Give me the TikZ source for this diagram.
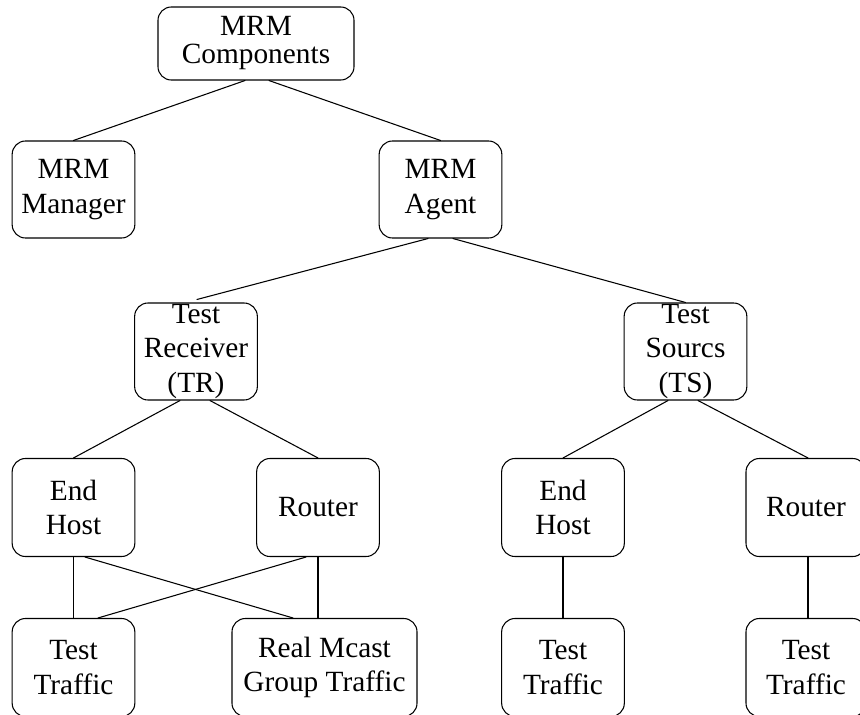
\documentclass[tikz,border=0pt]{standalone}
\usepackage{fontspec}
\setmainfont{Liberation Serif}
\usetikzlibrary{calc}
\tikzset{
  box/.style={draw,line width=0.8pt,rounded corners=10pt,inner sep=0pt,align=center,
    minimum width=92pt,minimum height=73.5pt,font=\fontsize{22}{26}\selectfont},
  link/.style={line width=0.8pt}
}
\begin{document}
\begin{tikzpicture}[line cap=round,line join=round,x=0.75pt,y=-0.75pt]
      \useasboundingbox (0,0) rectangle (860,714);
      \clip (0,0) rectangle (860,714);
      % top levels
      \node[box,minimum width=147pt,minimum height=54.75pt] (comp) at (256,43.5) {MRM\\[-5pt]Components};
      \node[box,minimum height=72.75pt] (mgr) at (73.5,189.5) {MRM\\Manager};
      \node[box,minimum height=72.75pt] (agent) at (440.5,189.5) {MRM\\Agent};
      \node[box,minimum height=72.75pt] (tr) at (196,351.5) {Test\\Receiver\\(TR)};
      \node[box,minimum height=72.75pt] (ts) at (685.5,351.5) {Test\\Sourcs\\(TS)};
      % receiver side
      \node[box] (eh1) at (73.5,507.5) {End\\Host};
      \node[box] (rt1) at (318,507.5) {Router};
      \node[box] (tt1) at (73.5,667.5) {Test\\Traffic};
      \node[box,minimum width=138.75pt] (rm) at (324.5,667.5) {Real Mcast\\Group Traffic};
      % source side
      \node[box] (eh2) at (563,507.5) {End\\Host};
      \node[box,minimum width=90pt] (rt2) at (806,507.5) {Router};
      \node[box] (tt2) at (563,667.5) {Test\\Traffic};
      \node[box,minimum width=90pt] (tt3) at (806,667.5) {Test\\Traffic};
      % links
      \draw[link] ($(comp.south)+(-11,0)$) -- (mgr.north);
      \draw[link] ($(comp.south)+(13,0)$) -- (agent.north);
      \draw[link] ($(agent.south)+(-12.5,0)$) -- ($(tr.north)+(1,-3)$);
      \draw[link] ($(agent.south)+(12.5,0)$) -- (ts.north);
      \draw[link] ($(tr.south)+(-16,0)$) -- (eh1.north);
      \draw[link] ($(tr.south)+(14,0)$) -- (rt1.north);
      \draw[link] ($(ts.south)+(-17.5,0)$) -- (eh2.north);
      \draw[link] ($(ts.south)+(12.5,0)$) -- ($(rt2.north)+(2,0)$);
      \draw[link] (eh1.south) -- (tt1.north);
      \draw[link] ($(eh1.south)+(11.5,0)$) -- ($(rm.north)+(-31.5,0)$);
      \draw[link] ($(rt1.south)+(-12,0)$) -- ($(tt1.north)+(24.5,0)$);
      \draw[link] (rt1.south) -- (rt1.south |- rm.north);
      \draw[link] (eh2.south) -- (tt2.north);
      \draw[link] ($(rt2.south)+(2,0)$) -- ($(tt3.north)+(2,0)$);
\end{tikzpicture}
\end{document}
